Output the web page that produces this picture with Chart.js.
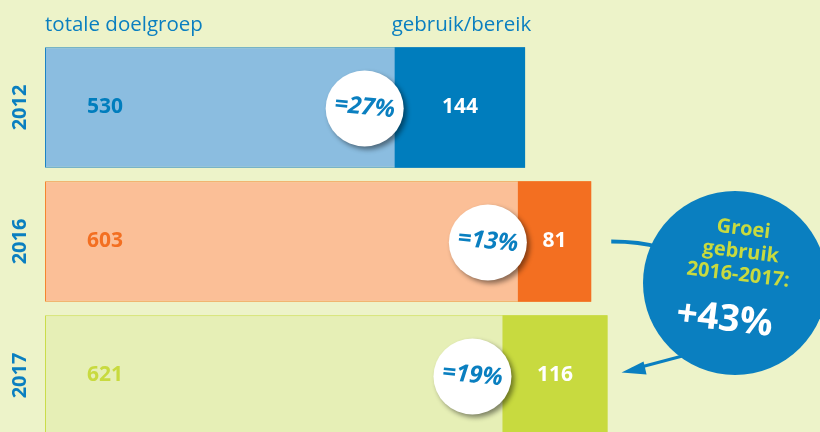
<!DOCTYPE html>
<html>
<head>
<meta charset="utf-8">
<script src="https://cdn.jsdelivr.net/npm/chart.js@4/dist/chart.umd.min.js"></script>
<style>
  html, body { margin: 0; padding: 0; background: #edf3c9; overflow: hidden; }
  #wrap { width: 820px; height: 432px; overflow: hidden; }
</style>
</head>
<body>
<div id="wrap"><canvas id="chart" width="820" height="450"></canvas></div>
<script>
"use strict";

var YEARS = ['2012', '2016', '2017'];
var TOTAL = [530, 603, 621];
var USAGE = [144, 81, 116];
var GROWTH_LABEL = ['Groei', 'gebruik', '2016-2017:'];
var GROWTH_VALUE = '+43%';

var LIGHT = ['#8bbde0', '#fbbf97', '#e6efb6'];
var LIGHT_BORDER = ['#1d83c4', '#f4852f', '#cadc4a'];
var DARK = ['#007dbd', '#f36f21', '#c8da3f'];
var BLUE = '#0a7fc0';
var FONT = '"Open Sans", sans-serif';

function usageRange() {
    return USAGE.map(function(u, i) {
        return [TOTAL[i] - u, TOTAL[i]];
    });
}

var annotations = {
    id: 'annotations',
    afterDatasetsDraw: function(chart) {
        var ctx = chart.ctx;
        var x = chart.scales.x;
        var y = chart.scales.y;

        ctx.save();
        ctx.textBaseline = 'middle';

        // header
        ctx.fillStyle = BLUE;
        ctx.font = '20.5px ' + FONT;
        ctx.textAlign = 'left';
        ctx.fillText('totale doelgroep', x.getPixelForValue(0), 25);
        ctx.fillText('gebruik/bereik', x.getPixelForValue(TOTAL[0] - USAGE[0]) - 3, 25);

        YEARS.forEach(function(year, i) {
            var cy = y.getPixelForValue(i);
            var split = x.getPixelForValue(TOTAL[i] - USAGE[i]);
            var end = x.getPixelForValue(TOTAL[i]);

            // year label
            ctx.save();
            ctx.translate(20, cy);
            ctx.rotate(-Math.PI / 2);
            ctx.textAlign = 'center';
            ctx.fillStyle = BLUE;
            ctx.font = 'bold 20px ' + FONT;
            ctx.fillText(year, 0, 0);
            ctx.restore();

            // values
            ctx.font = 'bold 21px ' + FONT;
            ctx.textAlign = 'left';
            ctx.fillStyle = DARK[i];
            ctx.fillText(String(TOTAL[i]), x.getPixelForValue(0) + 42, cy);
            ctx.textAlign = 'center';
            ctx.fillStyle = '#ffffff';
            ctx.fillText(String(USAGE[i]), (split + end) / 2, cy);

            // percentage bubble
            var bx = split - 30;
            ctx.save();
            ctx.shadowColor = 'rgba(0,0,0,0.45)';
            ctx.shadowBlur = 5;
            ctx.shadowOffsetX = 3;
            ctx.shadowOffsetY = 3;
            ctx.fillStyle = '#ffffff';
            ctx.beginPath();
            ctx.ellipse(bx, cy + 1, 39, 38, 0, 0, Math.PI * 2);
            ctx.fill();
            ctx.restore();

            ctx.save();
            ctx.translate(bx, cy);
            ctx.rotate(0.1);
            ctx.fillStyle = BLUE;
            ctx.font = 'italic bold 24px ' + FONT;
            ctx.textAlign = 'center';
            ctx.fillText('=' + Math.round(USAGE[i] / TOTAL[i] * 100) + '%', 0, 0);
            ctx.restore();
        });

        // connector from 2016 bar to growth bubble
        var y16 = y.getPixelForValue(1);
        var y17 = y.getPixelForValue(2);
        ctx.strokeStyle = BLUE;
        ctx.lineWidth = 4;
        ctx.beginPath();
        ctx.moveTo(x.getPixelForValue(TOTAL[1]) + 20, y16);
        ctx.quadraticCurveTo(640, y16, 660, y16 + 6);
        ctx.stroke();

        // arrow to 2017 bar
        var tipX = x.getPixelForValue(TOTAL[2]) + 14;
        var tipY = y17 - 3;
        ctx.lineWidth = 3;
        ctx.beginPath();
        ctx.moveTo(690, 354);
        ctx.lineTo(tipX + 10, tipY - 3);
        ctx.stroke();
        ctx.fillStyle = BLUE;
        ctx.beginPath();
        ctx.moveTo(tipX, tipY);
        ctx.lineTo(tipX + 22, tipY - 11);
        ctx.lineTo(tipX + 25, tipY + 2);
        ctx.closePath();
        ctx.fill();

        // growth bubble
        ctx.beginPath();
        ctx.arc(735, 283, 92, 0, Math.PI * 2);
        ctx.fill();

        ctx.save();
        ctx.translate(738, 275);
        ctx.rotate(0.12);
        ctx.textAlign = 'center';
        ctx.fillStyle = '#c8da3f';
        ctx.font = 'bold 20px ' + FONT;
        GROWTH_LABEL.forEach(function(line, k) {
            ctx.fillText(line, 0, -46 + k * 23);
        });
        ctx.fillStyle = '#ffffff';
        ctx.font = 'bold 37px ' + FONT;
        ctx.fillText(GROWTH_VALUE, -8, 46);
        ctx.restore();

        ctx.restore();
    }
};

new Chart(document.getElementById('chart'), {
    type: 'bar',
    data: {
        labels: YEARS,
        datasets: [
            {
                label: 'gebruik/bereik',
                data: usageRange(),
                backgroundColor: DARK,
                borderWidth: 0,
                grouped: false,
                order: 0
            },
            {
                label: 'totale doelgroep',
                data: TOTAL,
                backgroundColor: LIGHT,
                borderColor: LIGHT_BORDER,
                borderWidth: 1,
                borderSkipped: false,
                grouped: false,
                order: 1
            }
        ]
    },
    options: {
        indexAxis: 'y',
        responsive: false,
        animation: false,
        events: [],
        layout: { padding: { left: 45, right: 5, top: 40.5, bottom: 7.5 } },
        categoryPercentage: 0.9,
        barPercentage: 1,
        scales: {
            x: { display: false, min: 0, max: 850 },
            y: { display: false }
        },
        plugins: {
            legend: { display: false },
            tooltip: { enabled: false }
        }
    },
    plugins: [annotations]
});
</script>
</body>
</html>
